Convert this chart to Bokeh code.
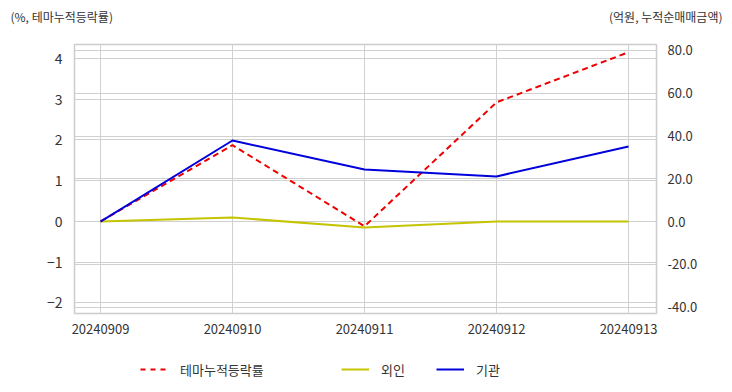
from bokeh.plotting import figure
from bokeh.layouts import column
from bokeh.models import (Range1d, LinearAxis, FixedTicker, Grid, Legend, LegendItem,
                          Label, NumeralTickFormatter)
from bokeh.embed import file_html
from bokeh.resources import INLINE

dates = ["20240909", "20240910", "20240911", "20240912", "20240913"]
theme_rate = [0.0, 1.87, -0.12, 2.92, 4.15]
foreign = [0.0, 1.9, -2.8, 0.0, 0.0]
institution = [0.0, 37.9, 24.3, 21.1, 35.1]
left_ticks = [-2, -1, 0, 1, 2, 3, 4]
right_ticks = [-40, -20, 0, 20, 40, 60, 80]
series_names = ["테마누적등락률", "외인", "기관"]
left_unit = "(%, 테마누적등락률)"
right_unit = "(억원, 누적순매매금액)"

FONT = "Noto Sans CJK KR"
COLORS = ["#ee0000", "#c4c400", "#0000dd"]
DASH = "6 4"
xs = list(range(len(dates)))

W = 724
TOP_H = 30
FL, FT, FR, FB = 74, 44, 656, 313  # frame edges in page px
MAIN_BOTTOM = 345
LEG_H = 39


def strip(h):
    f = figure(width=W, height=h, output_backend="svg", toolbar_location=None,
               x_range=Range1d(0, W), y_range=Range1d(0, h),
               x_axis_location=None, y_axis_location=None, frame_align=False,
               min_border=0, min_border_left=0, min_border_right=0,
               min_border_top=0, min_border_bottom=0)
    f.grid.visible = False
    f.outline_line_color = None
    f.background_fill_color = "white"
    f.border_fill_color = "white"
    return f


# ---- top strip with unit labels
top = strip(TOP_H)
top.add_layout(Label(x=10, y=TOP_H - 16, text=left_unit, text_font=FONT,
                     text_font_size="12px", text_color="#333333", text_baseline="middle"))
top.add_layout(Label(x=722, y=TOP_H - 16, text=right_unit, text_font=FONT,
                     text_font_size="12px", text_color="#333333", text_baseline="middle",
                     text_align="right"))

# ---- main chart
p = figure(width=W, height=MAIN_BOTTOM - TOP_H, output_backend="svg", toolbar_location=None,
           x_range=Range1d(-0.197, 4.212), y_range=Range1d(-2.26, 4.34), frame_align=False,
           min_border_left=FL, min_border_right=W - FR, min_border_top=FT - TOP_H,
           min_border_bottom=MAIN_BOTTOM - FB)
p.extra_y_ranges = {"right": Range1d(-43.0, 82.8)}
p.outline_line_color = "#cccccc"
p.outline_line_width = 1.5
p.background_fill_color = "white"
p.border_fill_color = "white"

p.xaxis.ticker = FixedTicker(ticks=xs)
p.xaxis.major_label_overrides = {i: d for i, d in enumerate(dates)}
p.xaxis.axis_line_color = None
p.xaxis.major_tick_line_color = None
p.xaxis.minor_tick_line_color = None
p.xaxis.major_label_standoff = 4
p.xaxis.major_label_text_font = FONT
p.xaxis.major_label_text_font_size = "13px"
p.xaxis.major_label_text_color = "#333333"

p.yaxis.ticker = FixedTicker(ticks=left_ticks)
p.yaxis.axis_line_color = None
p.yaxis.major_tick_line_color = None
p.yaxis.minor_tick_line_color = None
p.yaxis.major_label_standoff = 6
p.yaxis.major_label_text_font = FONT
p.yaxis.major_label_text_font_size = "14px"
p.yaxis.major_label_text_color = "#333333"

ra = LinearAxis(y_range_name="right", ticker=FixedTicker(ticks=right_ticks),
                formatter=NumeralTickFormatter(format="0.0"))
ra.axis_line_color = None
ra.major_tick_line_color = None
ra.minor_tick_line_color = None
ra.major_label_standoff = 5
ra.major_label_text_font = FONT
ra.major_label_text_font_size = "13px"
ra.major_label_text_color = "#333333"
p.add_layout(ra, "right")

p.xgrid.grid_line_color = "#d0d0d0"
p.ygrid.grid_line_color = "#d0d0d0"
rg = Grid(dimension=1, y_range_name="right", ticker=FixedTicker(ticks=right_ticks),
          grid_line_color="#d0d0d0")
p.add_layout(rg)

p.line(xs, theme_rate, line_color=COLORS[0], line_width=2, line_dash=DASH)
p.line(xs, foreign, line_color=COLORS[1], line_width=2, y_range_name="right")
p.line(xs, institution, line_color=COLORS[2], line_width=2, y_range_name="right")

# ---- legend strip
leg = strip(LEG_H)
nan = float("nan")
dummy = [
    leg.line([0, 1], [nan, nan], line_color=COLORS[0], line_width=2, line_dash="5 5"),
    leg.line([0, 1], [nan, nan], line_color=COLORS[1], line_width=2),
    leg.line([0, 1], [nan, nan], line_color=COLORS[2], line_width=2),
]
leg_x = [140, 341, 436]
for name, r, x in zip(series_names, dummy, leg_x):
    lg = Legend(items=[LegendItem(label=name, renderers=[r])], location=(x, 5),
                orientation="horizontal", border_line_color=None, background_fill_alpha=0,
                label_text_font=FONT, label_text_font_size="13px", label_text_color="#333333",
                glyph_width=28, glyph_height=20, label_standoff=12, padding=0, margin=0)
    leg.add_layout(lg, "center")

layout = column(top, p, leg, spacing=0)
open("out.html", "w").write(file_html(layout, INLINE))
